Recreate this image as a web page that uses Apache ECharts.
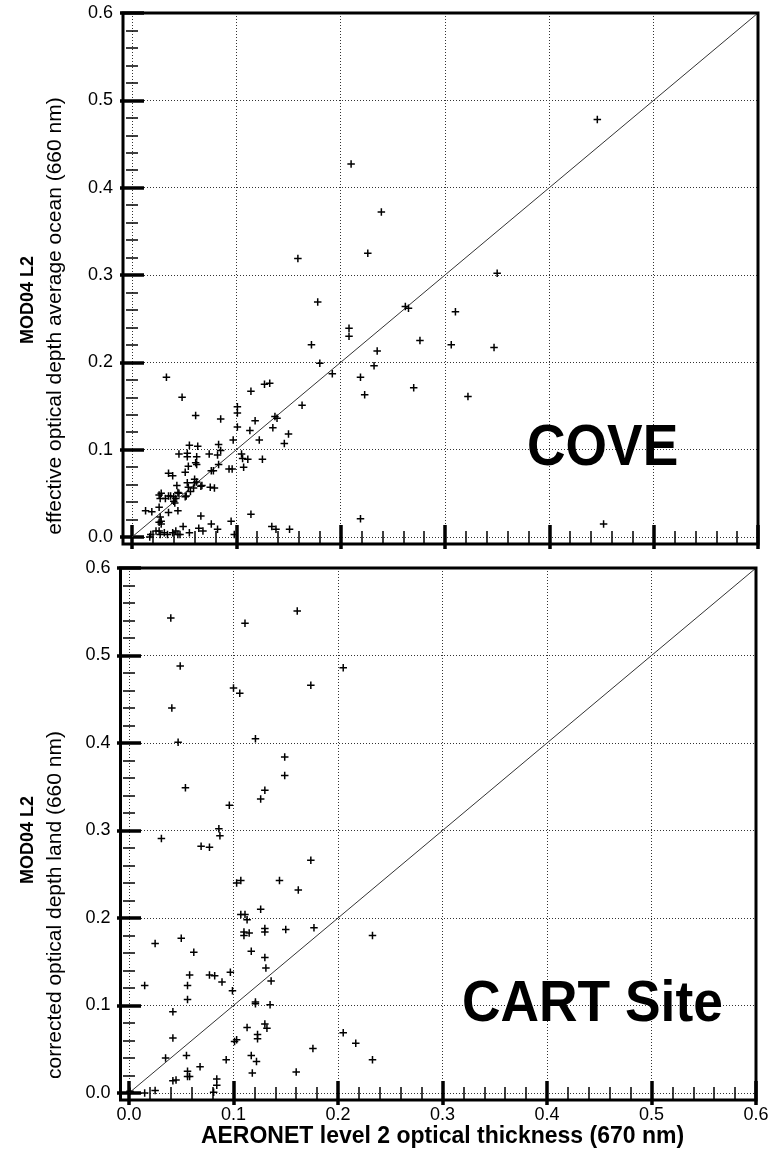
<!DOCTYPE html>
<html>
<head>
<meta charset="utf-8">
<script src="https://cdn.jsdelivr.net/npm/echarts@6/dist/echarts.min.js"></script>
<style>
html,body{margin:0;padding:0;background:#fff;}
#chart{width:775px;height:1152px;}
</style>
</head>
<body>
<div id="chart"></div>
<script>
// ---- Data ----
const tickLabels = ['0.0','0.1','0.2','0.3','0.4','0.5','0.6'];
const oneToOne = [0, 0.6];

// COVE: AERONET (x) vs MOD04 ocean effective optical depth (y)
const coveAeronet = [0.446,0.452,0.210,0.239,0.226,0.159,0.350,0.262,0.265,0.310,0.178,0.208,0.208,0.172,0.276,0.306,0.347,0.235,0.180,0.232,0.192,0.219,0.270,0.223,0.322,0.127,0.132,0.163,0.137,0.139,0.135,0.150,0.146,0.125,0.219,0.134,0.138,0.151,
0.033,0.048,0.114,0.061,0.085,0.101,0.101,0.101,0.118,0.113,0.097,0.122,0.106,0.111,0.096,0.093,0.107,0.055,0.063,0.083,0.082,0.085,0.045,0.053,0.053,0.062,0.074,0.076,0.078,0.061,0.062,0.054,0.083,0.035,0.039,0.051,0.060,0.060,0.067,0.075,0.079,0.043,0.054,0.053,0.062,0.066,0.056,0.059,0.051,0.052,0.045,0.044,0.040,0.026,0.028,0.032,0.035,0.037,0.027,0.026,0.040,0.042,0.041,0.035,0.044,0.013,0.019,0.027,0.026,0.028,0.028,0.066,0.076,0.064,0.068,0.082,0.049,0.055,0.095,0.098,0.114,
0.017,0.018,0.023,0.026,0.027,0.031,0.034,0.039,0.042,0.044,0.046,0.105];
const coveModis = [0.478,0.015,0.427,0.372,0.325,0.319,0.302,0.264,0.262,0.258,0.269,0.239,0.230,0.220,0.225,0.220,0.217,0.213,0.199,0.196,0.187,0.183,0.171,0.163,0.161,0.175,0.176,0.151,0.138,0.136,0.125,0.118,0.107,0.089,0.021,0.012,0.009,0.009,
0.183,0.160,0.167,0.139,0.135,0.149,0.142,0.126,0.133,0.122,0.111,0.111,0.090,0.089,0.078,0.078,0.080,0.105,0.104,0.106,0.094,0.099,0.095,0.096,0.092,0.092,0.095,0.076,0.076,0.085,0.083,0.081,0.083,0.073,0.070,0.074,0.066,0.062,0.059,0.057,0.056,0.059,0.057,0.062,0.063,0.058,0.052,0.056,0.046,0.047,0.050,0.051,0.046,0.048,0.050,0.044,0.047,0.047,0.044,0.034,0.041,0.044,0.039,0.028,0.030,0.030,0.029,0.023,0.017,0.018,0.015,0.024,0.015,0.010,0.007,0.009,0.012,0.005,0.018,0.003,0.026,
0.000,0.003,0.007,0.007,0.003,0.005,0.003,0.005,0.007,0.003,0.003,0.095];

// CART Site: AERONET (x) vs MOD04 land corrected optical depth (y)
const cartAeronet = [0.040,0.111,0.161,0.049,0.100,0.106,0.174,0.041,0.047,0.121,0.149,0.149,0.054,0.130,0.126,0.096,0.086,0.087,0.031,0.069,0.077,0.174,0.103,0.107,0.144,0.162,0.126,0.107,0.111,0.113,0.110,0.110,0.115,0.130,0.130,0.150,0.177,0.025,0.050,0.062,0.117,0.130,0.131,0.058,0.077,0.082,0.089,0.097,0.136,0.015,0.056,0.099,0.056,0.121,0.121,0.135,0.042,0.113,0.130,0.132,0.123,0.123,0.042,0.101,0.103,0.176,0.035,0.055,0.117,0.122,0.093,0.068,0.056,0.056,0.058,0.042,0.045,0.084,0.084,0.118,0.160,0.015,0.025,0.081,0.205,0.233,0.205,0.217,0.233,0.001];
const cartModis = [0.543,0.537,0.551,0.488,0.463,0.457,0.466,0.440,0.401,0.405,0.384,0.363,0.349,0.346,0.336,0.329,0.302,0.294,0.291,0.282,0.281,0.266,0.240,0.243,0.243,0.232,0.210,0.204,0.204,0.198,0.184,0.180,0.183,0.188,0.184,0.187,0.189,0.171,0.177,0.161,0.162,0.155,0.143,0.135,0.135,0.134,0.127,0.138,0.128,0.123,0.123,0.117,0.107,0.104,0.102,0.101,0.093,0.075,0.079,0.074,0.067,0.062,0.063,0.059,0.061,0.051,0.040,0.043,0.043,0.036,0.038,0.030,0.025,0.019,0.019,0.014,0.015,0.016,0.009,0.023,0.024,0.000,0.003,0.001,0.486,0.180,0.069,0.057,0.038,0.002];

// ---- Layout (style) ----
const G = [
  {left:132, top:13, width:626, height:524, offL:9, offB:7},
  {left:129, top:568, width:627, height:525, offL:8.5, offB:7}
];
const FONT = 'Liberation Sans, Arial, sans-serif';
const plusSymbol = 'path://M3,0H4.5V7.5H3Z M0,3H7.5V4.5H0Z';

function zip(a,b){ return a.map((v,i)=>[v,b[i]]); }
const fmt = v => tickLabels[Math.round(v*10)];

function valAxis(extra){
  return Object.assign({
    type:'value', min:0, max:0.6, interval:0.1,
    axisLine:{show:false},
    axisTick:{show:true, inside:true, length:12, lineStyle:{color:'#000', width:3.5}},
    minorTick:{show:true, splitNumber:5, length:6, lineStyle:{color:'#000', width:1.5}},
    splitLine:{show:false},
    axisLabel:{show:false},
  }, extra);
}
const gridLineStyle = {show:true, lineStyle:{color:'#333', width:1, type:[1,2]}};
const labelStyle = {show:true, formatter:fmt, color:'#000', fontFamily:FONT, fontSize:18};

const xAxes = [], yAxes = [];
G.forEach((g,i)=>{
  xAxes.push(valAxis({gridIndex:i, position:'bottom', offset:g.offB, splitLine:gridLineStyle,
    axisLabel: i===1 ? Object.assign({margin:6}, labelStyle) : {show:false},
    name: i===1 ? 'AERONET level 2 optical thickness (670 nm)' : '',
    nameLocation:'middle', nameGap:24,
    nameTextStyle:{fontFamily:FONT, fontSize:23, fontWeight:'bold', color:'#000'}}));
  xAxes.push(valAxis({gridIndex:i, position:'top', offset:0}));
  yAxes.push(valAxis({gridIndex:i, position:'left', offset:g.offL, splitLine:gridLineStyle,
    axisLabel: Object.assign({margin:10}, labelStyle)}));
  yAxes.push(valAxis({gridIndex:i, position:'right', offset:0}));
});

function scatter(i, xs, ys){
  return {type:'scatter', xAxisIndex:i*2, yAxisIndex:i*2, data:zip(xs,ys),
    symbol:plusSymbol, symbolSize:7.5, clip:false,
    itemStyle:{color:'#000', opacity:1}, z:3, silent:true};
}
function diag(i){
  return {type:'line', xAxisIndex:i*2, yAxisIndex:i*2, data:zip(oneToOne, oneToOne),
    showSymbol:false, symbol:'none', lineStyle:{color:'#333', width:1}, z:2, silent:true};
}

const graphics = [];
G.forEach(g=>{
  graphics.push({type:'rect', z:100, silent:true,
    shape:{x:g.left-g.offL, y:g.top, width:g.width+g.offL, height:g.height+g.offB},
    style:{fill:'none', stroke:'#000', lineWidth:3}});
});
function vtext(text, x, y, size, bold){
  return {type:'text', x:x, y:y, rotation:Math.PI/2, silent:true, z:100,
    style:{text:text, fill:'#000', font:(bold?'bold ':'')+size+'px '+FONT, textAlign:'center', textVerticalAlign:'middle'}};
}
graphics.push(vtext('MOD04 L2', 28, 300, 18, true));
graphics.push(vtext('effective optical depth average ocean (660 nm)', 55, 316, 21, false));
graphics.push(vtext('MOD04 L2', 28, 840, 18, true));
graphics.push(vtext('corrected optical depth land (660 nm)', 55, 905, 21, false));
function bigText(text, x, y){
  return {type:'text', x:x, y:y, scaleX:0.92, silent:true, z:100,
    style:{text:text, fill:'#000', font:'bold 58px '+FONT, textAlign:'left', textVerticalAlign:'middle'}};
}
graphics.push(bigText('COVE', 527, 449));
graphics.push(bigText('CART Site', 462, 1005));

const chart = echarts.init(document.getElementById('chart'), null, {renderer:'canvas'});
chart.setOption({
  animation:false,
  backgroundColor:'#fff',
  grid: G.map(g=>({left:g.left, top:g.top, width:g.width, height:g.height})),
  xAxis: xAxes,
  yAxis: yAxes,
  series:[diag(0), scatter(0, coveAeronet, coveModis), diag(1), scatter(1, cartAeronet, cartModis)],
  graphic: graphics
});
</script>
</body>
</html>
